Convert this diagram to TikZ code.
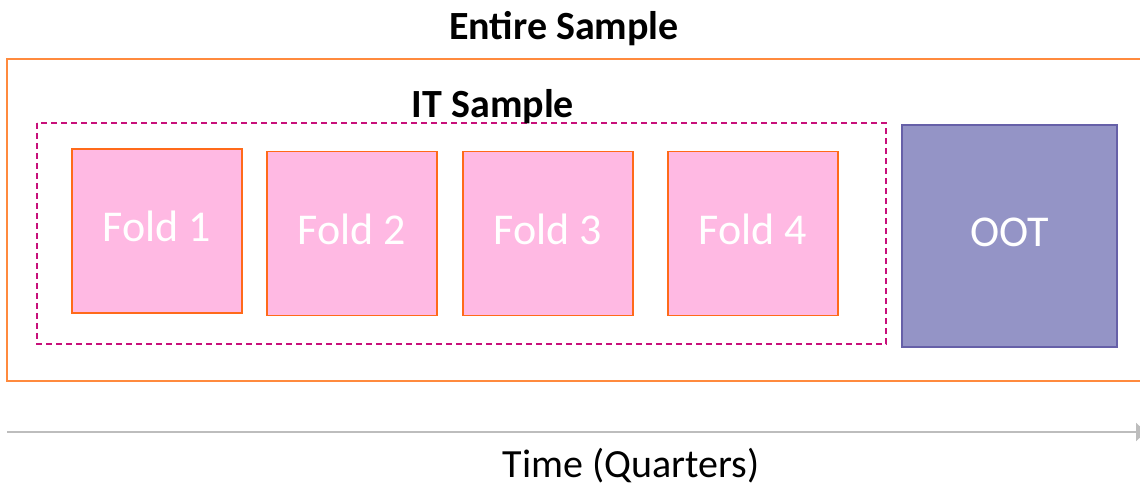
\documentclass[tikz,border=0pt]{standalone}
\usepackage{fontspec}
\setmainfont{Carlito}
\usetikzlibrary{arrows.meta}
\definecolor{frameorange}{HTML}{FF8A3D}
\definecolor{foldpink}{HTML}{FFB9E3}
\definecolor{foldedge}{HTML}{FF6A1A}
\definecolor{itmagenta}{HTML}{C8107A}
\definecolor{ootfill}{HTML}{9494C6}
\definecolor{ootedge}{HTML}{6660A8}
\definecolor{axisgrey}{HTML}{BDBDBD}
\tikzset{
  foldbox/.style={draw=foldedge, line width=1.2pt, fill=foldpink, text=white,
    minimum width=170pt, minimum height=164pt, inner sep=0pt,
    text height=28pt, text depth=7pt, font=\fontsize{44}{48}\selectfont},
  ootbox/.style={draw=ootedge, line width=1.2pt, fill=ootfill, text=white,
    minimum width=215pt, minimum height=222pt, inner sep=0pt,
    text height=28pt, text depth=7pt, font=\fontsize{44}{48}\selectfont},
  title/.style={inner sep=0pt, anchor=base, font=\bfseries\fontsize{40}{44}\selectfont},
  axislabel/.style={inner sep=0pt, anchor=base, font=\fontsize{40}{44}\selectfont}
}
\begin{document}
\begin{tikzpicture}[x=1pt, y=-1pt]
  \useasboundingbox (0,0) rectangle (1140,485);
  % whole sample frame (runs past the right edge)
  \draw[frameorange, line width=1.6pt] (1150,59) -- (7,59) -- (7,381) -- (1150,381);
  \node[title] (entire) at (564,39) {Entire Sample};
  % in-time sample
  \draw[itmagenta, line width=1.4pt, dash pattern=on 6pt off 4pt] (37,123) rectangle (886,344);
  \node[title] (its) at (493,117) {IT Sample};
  % folds
  \node[foldbox] (f1) at (157,231) {Fold 1};
  \node[foldbox] (f2) at (352,233.5) {Fold 2};
  \node[foldbox] (f3) at (548,233.5) {Fold 3};
  \node[foldbox] (f4) at (753,233.5) {Fold 4};
  % out-of-time block
  \node[ootbox] (oot) at (1009.5,236) {OOT};
  % time axis
  \coordinate (t0) at (7,432);
  \coordinate (t1) at (1146,432);
  \draw[axisgrey, line width=2pt, -{Triangle[length=10pt,width=18pt]}] (t0) -- (t1);
  \node[axislabel] (time) at (631,477) {Time (Quarters)};
\end{tikzpicture}
\end{document}
